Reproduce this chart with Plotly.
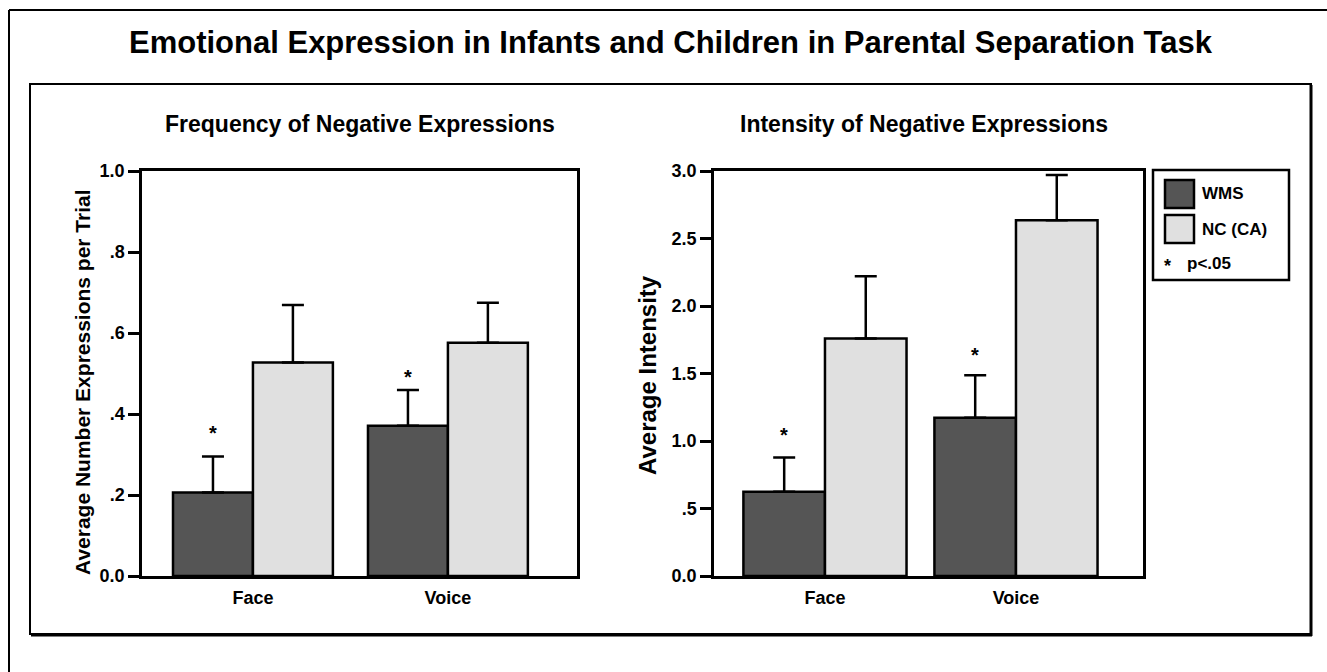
import plotly.graph_objects as go

# ---------------- data ----------------
categories = ["Face", "Voice"]
groups = ["WMS", "NC (CA)"]

freq_wms = [0.206, 0.371]
freq_wms_err = [0.295, 0.459]
freq_nc = [0.527, 0.576]
freq_nc_err = [0.669, 0.675]
freq_star = [0.36, 0.50]

int_wms = [0.625, 1.173]
int_wms_err = [0.877, 1.487]
int_nc = [1.76, 2.635]
int_nc_err = [2.22, 2.97]
int_star = [1.07, 1.66]

freq_ticks = [0.0, 0.2, 0.4, 0.6, 0.8, 1.0]
freq_ticktext = ["0.0", ".2", ".4", ".6", ".8", "1.0"]
int_ticks = [0.0, 0.5, 1.0, 1.5, 2.0, 2.5, 3.0]
int_ticktext = ["0.0", ".5", "1.0", "1.5", "2.0", "2.5", "3.0"]

title = "Emotional Expression in Infants and Children in Parental Separation Task"
sub1 = "Frequency of Negative Expressions"
sub2 = "Intensity of Negative Expressions"
ytitle1 = "Average Number Expressions per Trial"
ytitle2 = "Average Intensity"
sig_note = "p<.05"

# ---------------- style ----------------
W, H = 1327, 672
DARK = "#555555"
LIGHT = "#e0e0e0"
FONT = "Liberation Sans"


def fx(px):
    return px / W


def fy(py):
    return 1 - py / H


def label(x, y, text, size, **kw):
    d = dict(x=fx(x), y=fy(y), xref="paper", yref="paper", text="<b>" + text + "</b>",
             showarrow=False, xanchor="center", yanchor="middle",
             font=dict(family=FONT, size=size, color="black"))
    d.update(kw)
    return d


fig = go.Figure()

panels = [
    dict(wms=freq_wms, wmse=freq_wms_err, nc=freq_nc, nce=freq_nc_err, star=freq_star,
         xa="x", ya="y", bw=0.41),
    dict(wms=int_wms, wmse=int_wms_err, nc=int_nc, nce=int_nc_err, star=int_star,
         xa="x2", ya="y2", bw=0.427),
]

xpos = list(range(len(categories)))
for p in panels:
    bw = p["bw"]
    for vals, errs, col, name, off in [(p["wms"], p["wmse"], DARK, groups[0], -bw),
                                       (p["nc"], p["nce"], LIGHT, groups[1], 0)]:
        fig.add_trace(go.Bar(
            x=xpos, y=vals, width=bw, offset=off, name=name,
            marker=dict(color=col, line=dict(color="black", width=2.5)),
            error_y=dict(type="data", symmetric=False,
                         array=[e - v for e, v in zip(errs, vals)],
                         arrayminus=[0] * len(categories),
                         color="black", thickness=2.5, width=11),
            xaxis=p["xa"], yaxis=p["ya"], showlegend=False, hoverinfo="skip"))

annotations = []
for p in panels:
    for i, s in enumerate(p["star"]):
        annotations.append(dict(
            x=i - p["bw"] / 2, y=s, xref=p["xa"], yref=p["ya"], text="<b>*</b>",
            showarrow=False, xanchor="center", yanchor="middle", yshift=-3,
            font=dict(family=FONT, size=20, color="black")))

# titles
annotations.append(label(671, 42, title, 31))
annotations.append(label(360, 124, sub1, 23))
annotations.append(label(924, 124, sub2, 23))
annotations.append(label(82, 382, ytitle1, 21, textangle=-90))
annotations.append(label(647, 375, ytitle2, 24, textangle=-90))

# legend (drawn)
shapes = []
shapes.append(dict(type="rect", xref="paper", yref="paper", x0=fx(1153), x1=fx(1289), y0=fy(170), y1=fy(280),
                   line=dict(color="black", width=2.5), fillcolor="white"))
for k, (col, name) in enumerate(zip([DARK, LIGHT], groups)):
    top = 180 + k * 35
    shapes.append(dict(type="rect", xref="paper", yref="paper", x0=fx(1165), x1=fx(1194), y0=fy(top), y1=fy(top + 28),
                       line=dict(color="black", width=2.5), fillcolor=col))
    annotations.append(label(1200, top + 14, name, 17, xanchor="left"))
annotations.append(label(1167, 266, "*", 18))
annotations.append(label(1185, 263, sig_note, 17, xanchor="left"))

# frames
shapes.append(dict(type="line", xref="paper", yref="paper", x0=fx(9), x1=fx(9), y0=fy(10), y1=fy(H + 5),
                   line=dict(color="black", width=2)))
shapes.append(dict(type="line", xref="paper", yref="paper", x0=fx(9), x1=fx(W + 5), y0=fy(10), y1=fy(10),
                   line=dict(color="black", width=2)))
shapes.append(dict(type="rect", xref="paper", yref="paper", x0=fx(30), x1=fx(1311), y0=fy(84), y1=fy(634),
                   line=dict(color="black", width=2), layer="below"))
shapes.append(dict(type="line", xref="paper", yref="paper", x0=fx(1311), x1=fx(1311), y0=fy(85), y1=fy(636),
                   line=dict(color="black", width=3)))
shapes.append(dict(type="line", xref="paper", yref="paper", x0=fx(31), x1=fx(1312), y0=fy(635), y1=fy(635),
                   line=dict(color="black", width=3)))

axis_common = dict(showline=True, mirror=True, linecolor="black", linewidth=2.5, showgrid=False,
                   zeroline=False, automargin=False)
tickfont = dict(family=FONT, size=18, color="black")

fig.update_layout(
    template="none",
    width=W, height=H, margin=dict(l=0, r=0, t=0, b=0, pad=0, autoexpand=False),
    paper_bgcolor="white", plot_bgcolor="white",
    barmode="overlay",
    xaxis=dict(domain=[fx(142), fx(577)], range=[-0.569, 1.662], tickvals=xpos,
               ticktext=["<b>" + c + "</b>" for c in categories], ticks="", tickfont=tickfont,
               ticklabelstandoff=4, anchor="y", **axis_common),
    yaxis=dict(domain=[fy(576), fy(171)], range=[0, 1.0], tickvals=freq_ticks,
               ticktext=["<b>" + t + "</b>" for t in freq_ticktext], ticks="outside", ticklen=11, tickwidth=2.5,
               tickcolor="black", tickfont=tickfont, ticklabelstandoff=0, anchor="x", **axis_common),
    xaxis2=dict(domain=[fx(714), fx(1143)], range=[-0.581, 1.665], tickvals=xpos,
                ticktext=["<b>" + c + "</b>" for c in categories], ticks="", tickfont=tickfont,
                ticklabelstandoff=4, anchor="y2", **axis_common),
    yaxis2=dict(domain=[fy(576), fy(171)], range=[0, 3.0], tickvals=int_ticks,
                ticktext=["<b>" + t + "</b>" for t in int_ticktext], ticks="outside", ticklen=11, tickwidth=2.5,
                tickcolor="black", tickfont=tickfont, ticklabelstandoff=0, anchor="x2", **axis_common),
    annotations=annotations, shapes=shapes,
)

fig.write_html("out.html", config={"displayModeBar": False},
               post_script="document.body.style.margin='0px';")
